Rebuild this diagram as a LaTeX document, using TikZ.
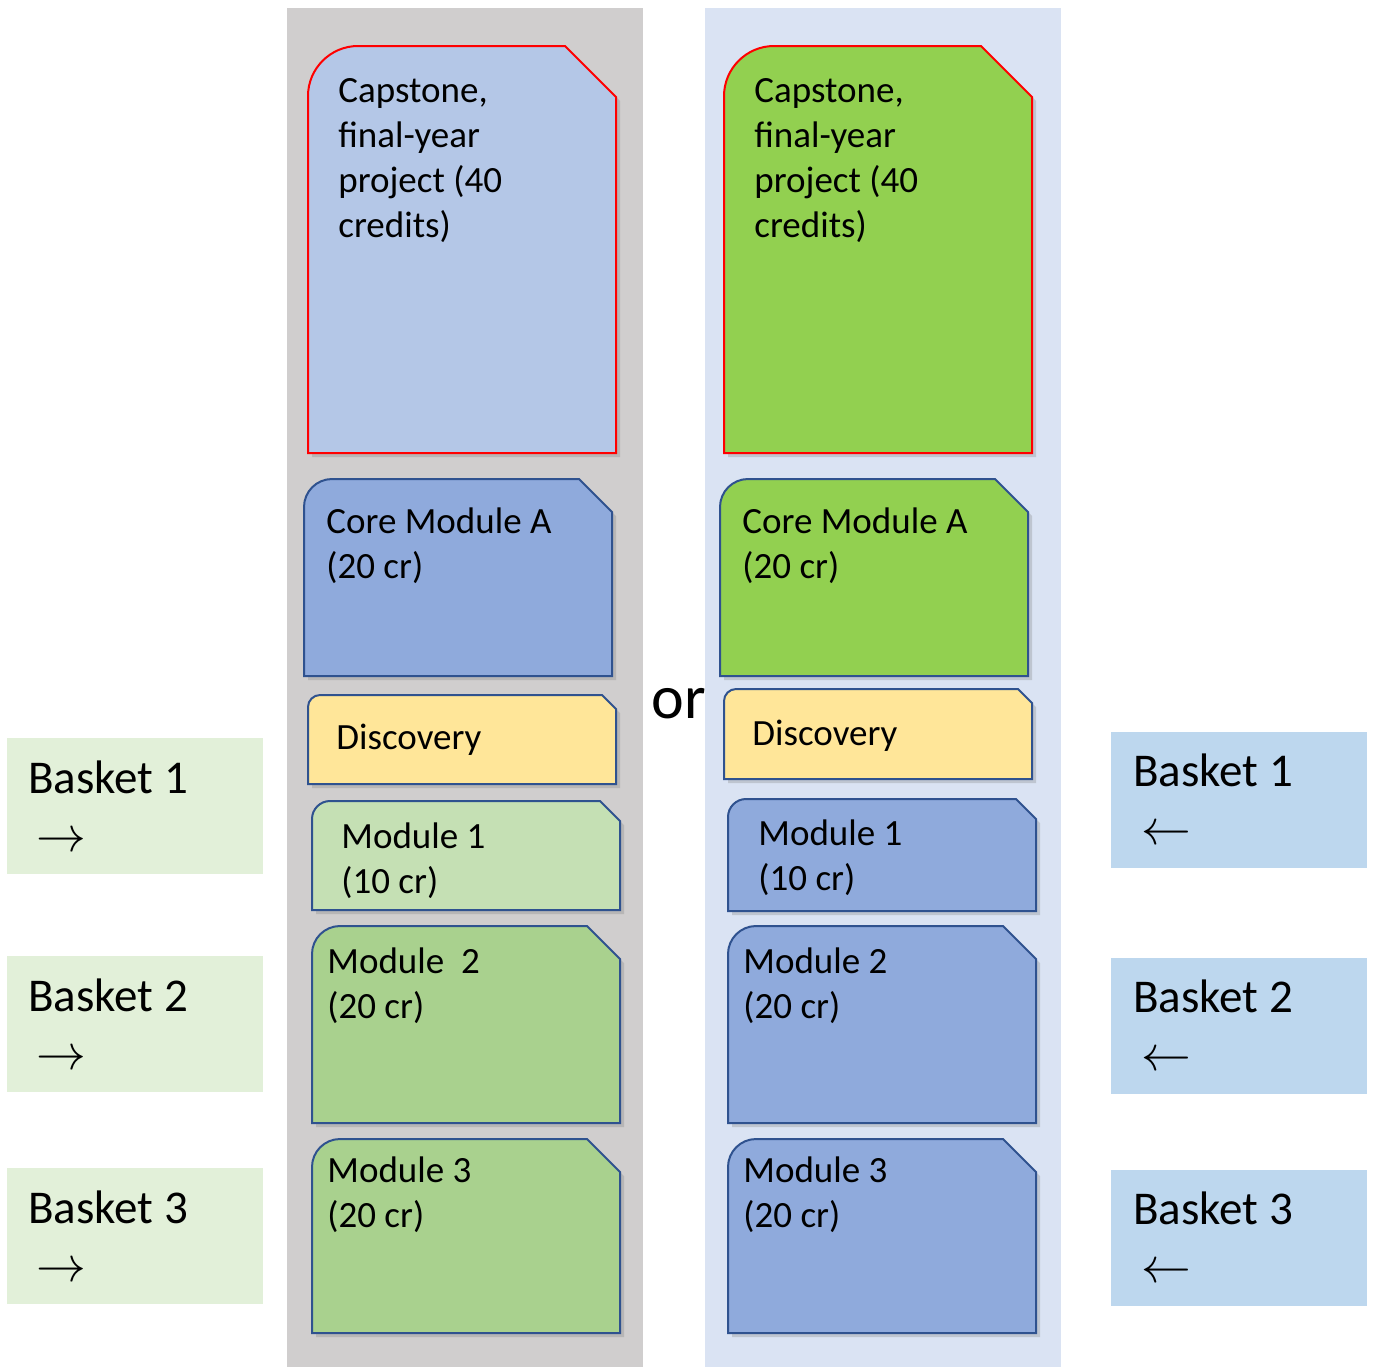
\documentclass[tikz,border=0pt]{standalone}
\usepackage{fontspec}
\setmainfont{Carlito}
\usetikzlibrary{shadows}

\definecolor{panelgray}{HTML}{D0CECE}
\definecolor{panelblue}{HTML}{DAE3F3}
\definecolor{capblue}{HTML}{B4C7E7}
\definecolor{coreblue}{HTML}{8FAADC}
\definecolor{discyellow}{HTML}{FFE699}
\definecolor{paleGreen}{HTML}{C5E0B4}
\definecolor{midGreen}{HTML}{A9D18E}
\definecolor{brightGreen}{HTML}{92D050}
\definecolor{cardline}{HTML}{2F528F}
\definecolor{capred}{HTML}{FF0000}
\definecolor{basketGreen}{HTML}{E2F0D9}
\definecolor{basketBlue}{HTML}{BDD7EE}

\begin{document}
\begin{tikzpicture}[
        x=0.5pt, y=-0.5pt,
        card/.style={line width=1pt, drop shadow={shadow xshift=2pt, shadow yshift=-2pt, opacity=0.3}},
        label/.style={anchor=base west, align=left, inner sep=0pt, font=\fontsize{18.5}{22.5}\selectfont},
        basket/.style={anchor=base west, align=left, inner sep=0pt, font=\fontsize{23.5}{29}\selectfont}
    ]
    \useasboundingbox (0,0) rectangle (1374,1367);

    % two options side by side
    \fill[panelgray] (287,8) rectangle (643,1367);
    \fill[panelblue] (705,8) rectangle (1061,1367);

    % module cards: rounded top left, snipped top right
    \foreach \xa/\ya/\xb/\yb/\r/\s/\col/\edge in {
            308/46/616/453/50/51/capblue/capred,
            304/479/612/676/28/33/coreblue/cardline,
            308/695/616/784/12/14/discyellow/cardline,
            312/801/620/910/18/20/paleGreen/cardline,
            312/926/620/1123/28/33/midGreen/cardline,
            312/1139/620/1333/28/33/midGreen/cardline,
            724/46/1032/453/50/51/brightGreen/capred,
            720/479/1028/676/28/33/brightGreen/cardline,
            724/689/1032/779/12/14/discyellow/cardline,
            728/799/1036/911/18/20/coreblue/cardline,
            728/926/1036/1123/28/33/coreblue/cardline,
            728/1139/1036/1333/28/33/coreblue/cardline} {
            \draw[card, draw=\edge, fill=\col] (\xa,\yb) -- (\xa,{\ya+\r})
                .. controls (\xa,{\ya+0.45*\r}) and ({\xa+0.45*\r},\ya) .. ({\xa+\r},\ya)
                -- ({\xb-\s},\ya) -- (\xb,{\ya+\s}) -- (\xb,\yb) -- cycle;
        }

    % left column (anchor = baseline of last line)
    \node[label] (capL) at (338,237) {Capstone,\\final-year\\project (40\\credits)};
    \node[label] (coreL) at (326,578) {Core Module A\\(20 cr)};
    \node[label] (discL) at (336,749) {Discovery};
    \node[label] (modoneL) at (341,893) {Module 1\\(10 cr)};
    \node[label] (modtwoL) at (327,1018) {Module\ \ 2\\(20 cr)};
    \node[label] (modthreeL) at (327,1227) {Module 3\\(20 cr)};

    % right column
    \node[label] (capR) at (754,237) {Capstone,\\final-year\\project (40\\credits)};
    \node[label] (coreR) at (742,578) {Core Module A\\(20 cr)};
    \node[label] (discR) at (752,745) {Discovery};
    \node[label] (modoneR) at (758,890) {Module 1\\(10 cr)};
    \node[label] (modtwoR) at (743,1018) {Module 2\\(20 cr)};
    \node[label] (modthreeR) at (743,1227) {Module 3\\(20 cr)};

    \node[anchor=base west, inner sep=0pt, font=\fontsize{31}{36}\selectfont] (or) at (651,718) {or};

    % baskets
    \foreach \y/\n in {738/1, 956/2, 1168/3} {
            \fill[basketGreen] (7,\y) rectangle (263,{\y+136});
            \node[basket] (basketL\n) at (28,{\y+113}) {Basket \n\\\hspace*{4pt}$\rightarrow$};
        }
    \foreach \y/\n in {732/1, 958/2, 1170/3} {
            \fill[basketBlue] (1111,\y) rectangle (1367,{\y+136});
            \node[basket] (basketR\n) at (1133,{\y+112}) {Basket \n\\\hspace*{4pt}$\leftarrow$};
        }
\end{tikzpicture}
\end{document}
